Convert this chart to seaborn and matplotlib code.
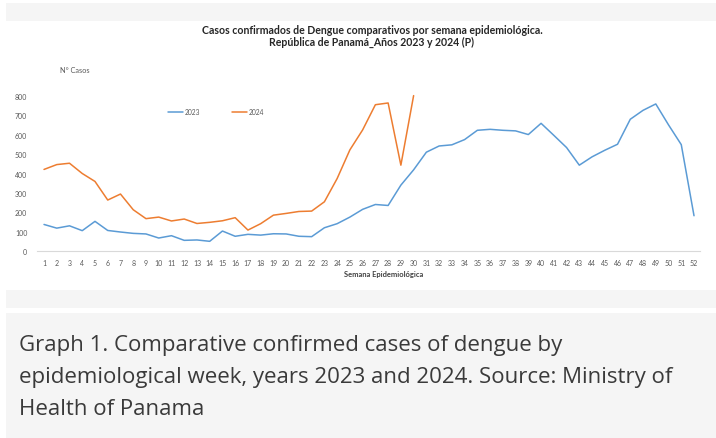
import matplotlib
matplotlib.use('Agg')
import matplotlib.pyplot as plt
import seaborn as sns
import pandas as pd
from matplotlib.patches import Rectangle

# ===== DATA =====
weeks_2023 = list(range(1, 53))
cases_2023 = [137, 118, 130, 105, 153, 106, 98, 91, 88, 67,
              79, 55, 57, 50, 103, 76, 86, 82, 89, 88,
              76, 74, 120, 141, 175, 215, 240, 235, 340, 419,
              510, 542, 548, 575, 623, 628, 623, 620, 601, 659,
              597, 534, 443, 486, 520, 551, 680, 726, 759, 651,
              549, 182]
weeks_2024 = list(range(1, 31))
cases_2024 = [421, 446, 453, 400, 359, 263, 294, 213, 167, 175,
              155, 165, 142, 148, 156, 172, 108, 141, 185, 194,
              204, 206, 254, 374, 522, 625, 755, 764, 443, 802]
y_ticks = list(range(0, 801, 100))

df = pd.concat([
    pd.DataFrame({"semana": weeks_2023, "casos": cases_2023, "anio": "2023"}),
    pd.DataFrame({"semana": weeks_2024, "casos": cases_2024, "anio": "2024"}),
])

# ===== STYLE =====
sns.set_theme(style="white")
plt.rcParams['font.family'] = ['Lato', 'DejaVu Sans']

fig = plt.figure(figsize=(7.16, 4.39), dpi=100)
fig.patch.set_facecolor("white")

# bandas grises de la pagina
W, H = 716, 439
for (y0, y1) in [(4, 22), (291, 309), (314, 439)]:
    fig.patches.append(Rectangle((6 / W, 1 - y1 / H), 1 - 6 / W, (y1 - y0) / H,
                                 transform=fig.transFigure, facecolor="#f5f5f5",
                                 edgecolor="none", zorder=0))

ax = fig.add_axes([37 / W, 1 - 252 / H, 663 / W, 155 / H])
ax.set_facecolor("none")

sns.lineplot(data=df, x="semana", y="casos", hue="anio",
             palette={"2023": "#5B9BD5", "2024": "#ED7D31"},
             linewidth=1.1, ax=ax, clip_on=False)

ax.set_xlim(0.45, 52.47)
ax.set_ylim(0, 800)
ax.set_xticks(weeks_2023)
ax.set_yticks(y_ticks)
ax.tick_params(axis="both", length=0, labelsize=5, colors="#595959")
ax.tick_params(axis="x", pad=6)
ax.tick_params(axis="y", pad=7)
for s in ["top", "right", "left"]:
    ax.spines[s].set_visible(False)
ax.spines["bottom"].set_color("#d9d9d9")
ax.spines["bottom"].set_linewidth(0.8)
ax.set_xlabel("")
ax.set_ylabel("")

ax.legend(loc="center", bbox_to_anchor=(0.27, 0.897), ncol=2, frameon=False,
          fontsize=4.8, handlelength=2.2, columnspacing=4.8, handletextpad=0.3,
          labelcolor="#595959")

fig.text(372 / W, 1 - 30 / H, "Casos confirmados de Dengue comparativos por semana epidemiológica.",
         ha="center", va="center", fontsize=7.6, fontweight="bold", color="#262626")
fig.text(372 / W, 1 - 42 / H, "República de Panamá_Años 2023 y 2024 (P)",
         ha="center", va="center", fontsize=7.6, fontweight="bold", color="#262626")
fig.text(60 / W, 1 - 71 / H, "N° Casos", ha="left", va="center",
         fontsize=5.3, color="#595959")
fig.text(384 / W, 1 - 275 / H, "Semana Epidemiológica", ha="center", va="center",
         fontsize=5.4, fontweight="bold", color="#404040")

caption = ["Graph 1. Comparative confirmed cases of dengue by",
           "epidemiological week, years 2023 and 2024. Source: Ministry of",
           "Health of Panama"]
for i, line in enumerate(caption):
    fig.text(19 / W, 1 - (351 + 32 * i) / H, line, ha="left", va="baseline",
             fontsize=16, color="#3a3a3a", family=["Open Sans", "DejaVu Sans"])

plt.savefig("out.png", dpi=100)
plt.close()
